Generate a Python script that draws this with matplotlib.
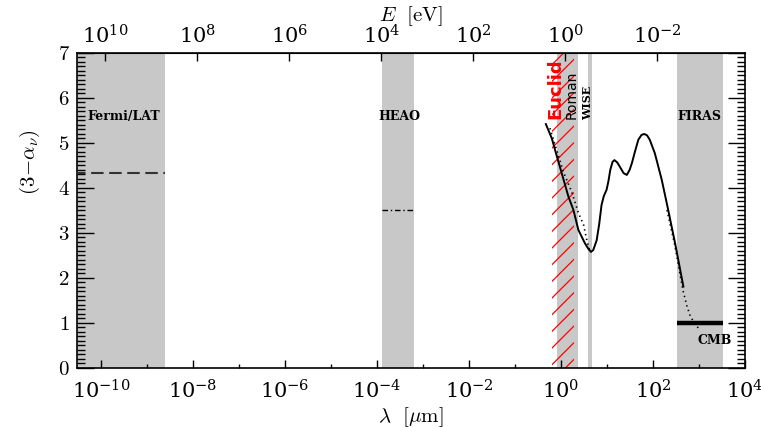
import matplotlib
matplotlib.use('Agg')
import matplotlib.pyplot as plt
import numpy as np
from matplotlib.ticker import LogLocator, MultipleLocator, NullFormatter, NullLocator, FuncFormatter

plt.rcParams['mathtext.fontset'] = 'cm'
plt.rcParams['font.family'] = 'DejaVu Serif'
plt.rcParams['lines.scale_dashes'] = False
plt.rcParams['hatch.linewidth'] = 0.9

# spectral index curve (lambda in micron, 3 - alpha_nu)
lam_curve = [0.468, 0.631, 0.813, 1.035, 1.445, 1.862, 2.377, 3.311, 3.981, 4.467,
             5.012, 5.957, 6.761, 7.586, 8.511, 9.772, 10.72, 11.75, 13.18, 14.45,
             16.60, 19.05, 22.91, 26.92, 30.90, 34.67, 40.74, 47.86, 56.23, 64.57,
             74.13, 85.11, 109.6, 154.9, 213.8, 302.0, 457.1]
val_curve = [5.42, 5.10, 4.70, 4.33, 3.81, 3.51, 3.07, 2.77, 2.64, 2.58,
             2.62, 2.84, 3.20, 3.62, 3.82, 3.96, 4.15, 4.40, 4.58, 4.62,
             4.57, 4.47, 4.33, 4.29, 4.40, 4.55, 4.82, 5.07, 5.18, 5.20,
             5.17, 5.07, 4.77, 4.18, 3.51, 2.77, 1.81]

# model lines (dotted)
lam_nir = [0.575, 0.741, 1.122, 1.698, 2.399, 3.09, 3.63, 4.27]
val_nir = [5.33, 4.96, 4.36, 3.92, 3.44, 3.18, 2.84, 2.58]
lam_fir = [201.0, 300.0, 447.0, 537.0, 631.0, 754.0, 1047.0]
val_fir = [3.51, 2.71, 1.73, 1.40, 1.18, 1.03, 0.84]

# instrument bands (micron)
fermi_band = (1e-11, 2.45e-9)
heao_band = (1.3e-4, 6.3e-4)
euclid_band = (0.64, 1.9)
roman_band = (0.82, 2.3)
wise_band = (3.9, 4.7)
firas_band = (330.0, 3300.0)

fermi_val = 4.34
heao_val = 3.50
cmb_val = 1.0

fig = plt.figure(figsize=(7.61, 4.28), dpi=100)
ax = fig.add_axes([0.1008, 0.1402, 0.8782, 0.7360])

grey = '#c8c8c8'
for band in [fermi_band, heao_band, roman_band, wise_band, firas_band]:
    ax.axvspan(band[0], band[1], color=grey, lw=0, zorder=0)
ax.axvspan(euclid_band[0], euclid_band[1], fill=False, hatch='//', edgecolor='red',
           lw=0, zorder=1)

ax.plot(fermi_band, [fermi_val, fermi_val], color='#333333', lw=1.5,
        linestyle=(0, (9, 4)), zorder=3)
ax.plot(heao_band, [heao_val, heao_val], color='black', lw=1.0,
        linestyle=(0, (4, 2, 1, 2)), zorder=3)
ax.plot(firas_band, [cmb_val, cmb_val], color='black', lw=3.2, solid_capstyle='butt', zorder=3)

ax.plot(lam_curve, val_curve, color='black', lw=1.4, zorder=4)
ax.plot(lam_nir, val_nir, color='black', lw=1.2, linestyle=(0, (1, 2.5)), zorder=4)
ax.plot(lam_fir, val_fir, color='black', lw=1.2, linestyle=(0, (1, 2.5)), zorder=4)

ax.set_xscale('log')
ax.set_xlim(10**-10.53, 1e4)
ax.set_ylim(0, 7)

ax.set_xticks([1e-10, 1e-8, 1e-6, 1e-4, 1e-2, 1e0, 1e2, 1e4])
ax.xaxis.set_minor_locator(LogLocator(base=10, subs=[1.0], numticks=30))
ax.xaxis.set_minor_formatter(NullFormatter())
ax.yaxis.set_major_locator(MultipleLocator(1))
ax.yaxis.set_minor_locator(MultipleLocator(0.1))
ax.yaxis.set_major_formatter(FuncFormatter(lambda v, p: r'$%d$' % round(v)))
ax.tick_params(axis='both', which='both', direction='in', labelsize=15)
ax.tick_params(axis='x', which='major', length=6, width=1, top=False, pad=8)
ax.tick_params(axis='x', which='minor', length=3, width=1, top=False)
ax.tick_params(axis='y', which='major', length=12, width=1, right=True, pad=5)
ax.tick_params(axis='y', which='minor', length=6, width=1, right=True)
for s in ax.spines.values():
    s.set_linewidth(1.2)

ax.set_xlabel(r'$\lambda\ \ [\mu\mathrm{m}]$', fontsize=15, labelpad=2)
ax.set_ylabel(r'$(3\!-\!\alpha_\nu)$', fontsize=15)
ax.yaxis.set_label_coords(-0.052, 0.654)

secax = ax.secondary_xaxis('top', functions=(lambda x: 1.24 / x, lambda x: 1.24 / x))
secax.set_xticks([1e10, 1e8, 1e6, 1e4, 1e2, 1e0, 1e-2])
secax.xaxis.set_minor_locator(NullLocator())
secax.xaxis.set_minor_formatter(NullFormatter())
secax.tick_params(axis='x', which='major', direction='in', length=6, width=1, labelsize=15, pad=4)
secax.set_xlabel(r'$E\ \ [\mathrm{eV}]$', fontsize=15, labelpad=2)

bold_lbl = dict(fontsize=9, fontweight='bold', ha='center', va='center', zorder=5)
ax.text(10**-9.5, 5.58, 'Fermi/LAT', **bold_lbl)
ax.text(10**-3.52, 5.58, 'HEAO', **bold_lbl)
ax.text(10**3.0, 5.58, 'FIRAS', **bold_lbl)
ax.text(10**3.33, 0.62, 'CMB', **bold_lbl)
ax.text(10**-0.13, 6.2, 'Euclid', color='red', fontsize=13, fontweight='bold',
        family='DejaVu Sans', rotation=90, ha='center', va='center', zorder=5)
ax.text(10**0.24, 6.07, 'Roman', fontsize=10, family='DejaVu Sans',
        rotation=90, ha='center', va='center', zorder=5)
ax.text(10**0.587, 5.89, 'WISE', fontsize=8, fontweight='bold',
        rotation=90, ha='center', va='center', zorder=5)

fig.savefig('out.png', dpi=100)
